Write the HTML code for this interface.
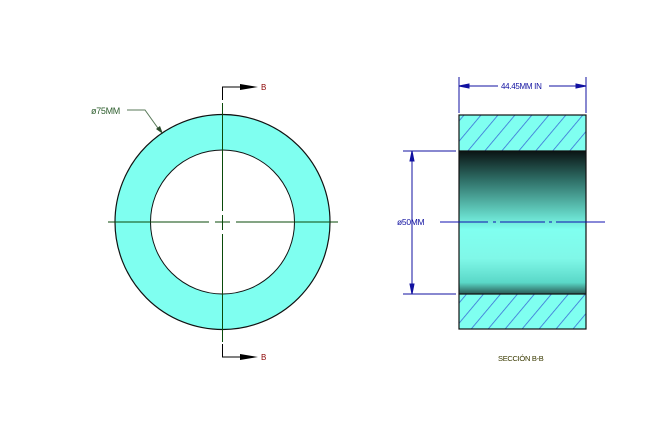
<!DOCTYPE html>
<html><head><meta charset="utf-8"><style>
html,body{margin:0;padding:0;background:#fff;}
svg{display:block;font-family:"Liberation Sans",sans-serif;}
</style></head><body>
<svg width="664" height="423" viewBox="0 0 664 423">
<defs>
<linearGradient id="bore" x1="0" y1="0" x2="0" y2="1">
<stop offset="0" stop-color="#0a1414"/>
<stop offset="0.2" stop-color="#2e6e66"/>
<stop offset="0.45" stop-color="#66d8c8"/>
<stop offset="0.55" stop-color="#80fff0"/>
<stop offset="0.75" stop-color="#80f8e8"/>
<stop offset="0.92" stop-color="#5ad8c8"/>
<stop offset="1" stop-color="#2a5a55"/>
</linearGradient>
<pattern id="hatch" patternUnits="userSpaceOnUse" width="13" height="13" patternTransform="rotate(40)">
<line x1="0" y1="0" x2="0" y2="13" stroke="#2a4ad0" stroke-width="1.6"/>
</pattern>
</defs>

<g>
<circle cx="222.5" cy="222" r="107.5" fill="#7ffff0" stroke="#111" stroke-width="1.2"/>
<circle cx="222.5" cy="222" r="72" fill="#fff" stroke="#111" stroke-width="1"/>
<g stroke="#0a4a0a" stroke-width="1">
<line x1="108" y1="222" x2="209" y2="222"/><line x1="215" y1="222" x2="230" y2="222"/><line x1="236" y1="222" x2="338" y2="222"/>
<line x1="222.5" y1="103" x2="222.5" y2="211"/><line x1="222.5" y1="215" x2="222.5" y2="230"/><line x1="222.5" y1="234" x2="222.5" y2="342"/>
</g>
<g>
<polyline points="222.5,100 222.5,87 240,87" fill="none" stroke="#000" stroke-width="1"/>
<polygon points="240,84 258,87 240,90" fill="#000"/>
<text x="261" y="90" font-size="8" fill="#8b0000">B</text>
</g>
<g>
<polyline points="222.5,344 222.5,357 240,357" fill="none" stroke="#000" stroke-width="1"/>
<polygon points="240,354 258,357 240,360" fill="#000"/>
<text x="261" y="360" font-size="8" fill="#8b0000">B</text>
</g>
<g>
<text x="91" y="114" font-size="9" fill="#2f5f2f" letter-spacing="-0.3">ø75MM</text>
<polyline points="127,110 145,110 160,131" fill="none" stroke="#5a7a5a" stroke-width="1"/>
<polygon points="156,129 163,134 160,126" fill="#2a4a2a"/>
</g>
</g>

<g>
<rect x="459" y="115" width="127" height="36" fill="#7ffff0"/>
<rect x="459" y="294" width="127" height="35" fill="#7ffff0"/>
<rect x="459" y="115" width="127" height="36" fill="url(#hatch)" opacity="0.8"/>
<rect x="459" y="294" width="127" height="35" fill="url(#hatch)" opacity="0.8"/>
<rect x="459" y="151" width="127" height="143" fill="url(#bore)"/>
<rect x="459" y="115" width="127" height="214" fill="none" stroke="#111" stroke-width="1.2"/>
<line x1="459" y1="151" x2="586" y2="151" stroke="#111" stroke-width="1.2"/>
<line x1="459" y1="294" x2="586" y2="294" stroke="#111" stroke-width="1.2"/>
<g stroke="#1010b0" stroke-width="1">
<line x1="440" y1="222" x2="488" y2="222"/><line x1="493" y1="222" x2="496" y2="222"/><line x1="500" y1="222" x2="545" y2="222"/><line x1="549" y1="222" x2="552" y2="222"/><line x1="556" y1="222" x2="605" y2="222"/>
</g>
<g stroke="#1010a0" stroke-width="1">
<line x1="459" y1="77" x2="459" y2="113"/><line x1="586" y1="77" x2="586" y2="113"/>
<line x1="459" y1="86" x2="498" y2="86"/><line x1="549" y1="86" x2="586" y2="86"/>
<polygon points="459,86 469,84 469,88" fill="#1010a0"/><polygon points="586,86 576,84 576,88" fill="#1010a0"/>
</g>
<text x="501" y="89" font-size="8" fill="#1010a0" letter-spacing="-0.3">44.45MM IN</text>
<g stroke="#1010a0" stroke-width="1">
<line x1="403" y1="151" x2="456" y2="151"/><line x1="403" y1="294" x2="456" y2="294"/>
<line x1="412" y1="151" x2="412" y2="294"/>
<polygon points="412,151 410,161 414,161" fill="#1010a0"/><polygon points="412,294 410,284 414,284" fill="#1010a0"/>
</g>
<text x="397" y="225" font-size="8.5" fill="#1010a0" letter-spacing="-0.3">ø50MM</text>
<text x="498" y="361" font-size="7.5" fill="#3a3a00" letter-spacing="-0.3">SECCIÓN B-B</text>
</g>
</svg>
</body></html>
